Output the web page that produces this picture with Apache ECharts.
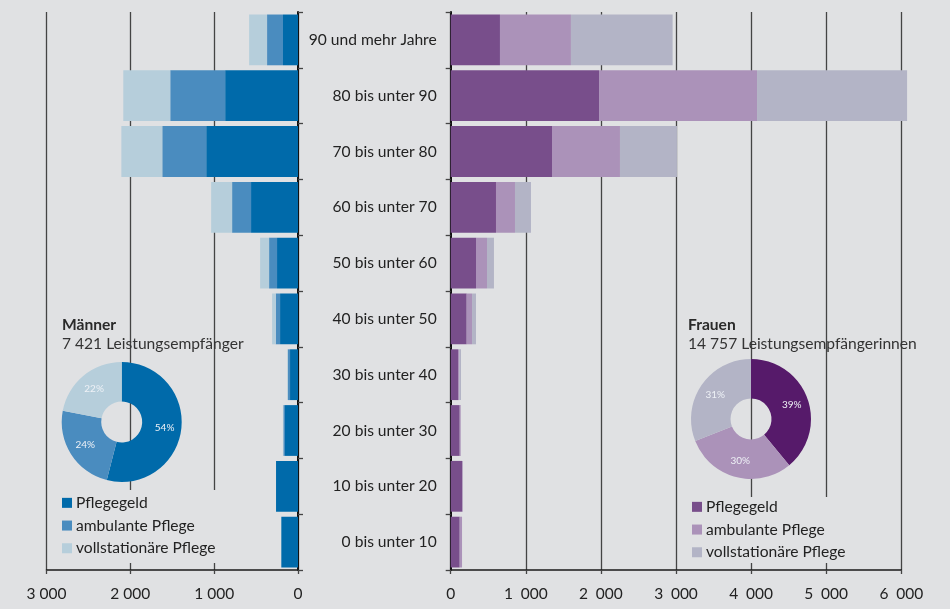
<!DOCTYPE html>
<html>
<head>
<meta charset="utf-8">
<script src="https://cdn.jsdelivr.net/npm/echarts@6/dist/echarts.min.js"></script>
<style>
  html, body { margin: 0; padding: 0; background: #e0e1e3; }
  #chart { width: 950px; height: 609px; }
</style>
</head>
<body>
<div id="chart"></div>
<script>
// Altersgruppen, von oben nach unten
const categories = ['90 und mehr Jahre', '80 bis unter 90', '70 bis unter 80', '60 bis unter 70',
  '50 bis unter 60', '40 bis unter 50', '30 bis unter 40', '20 bis unter 30', '10 bis unter 20', '0 bis unter 10'];

// Männer: Leistungsempfänger nach Leistungsart
const menPflegegeld   = [179, 869, 1095, 560, 250, 214, 95, 155, 262, 199];
const menAmbulant     = [190, 655, 524, 226, 95, 51, 24, 20, 0, 0];
const menStationaer   = [214, 560, 488, 250, 107, 44, 10, 5, 0, 0];

// Frauen: Leistungsempfängerinnen nach Leistungsart
const womenPflegegeld = [656, 1975, 1349, 603, 337, 213, 97, 120, 155, 120];
const womenAmbulant   = [945, 2104, 905, 253, 146, 71, 18, 13, 5, 31];
const womenStationaer = [1354, 1998, 759, 213, 93, 53, 22, 0, 0, 0];

// Anteile in Prozent (Ringdiagramme)
const typeNames = ['Pflegegeld', 'ambulante Pflege', 'vollstationäre Pflege'];
const menShares = [54, 24, 22];
const womenShares = [39, 30, 31];

// Achsenbeschriftungen
const menTickLabels = ['0', '1 000', '2 000', '3 000'];
const womenTickLabels = ['0', '1\u2002000', '2\u2002000', '3\u2002000', '4\u2002000', '5\u2002000', '6\u2002000'];

const menTitle = 'Männer';
const menSub = '7 421 Leistungsempfänger';
const womenTitle = 'Frauen';
const womenSub = '14 757 Leistungsempfängerinnen';

const menColors = ['#006aaa', '#4a8cbf', '#b6cedb'];
const womenBarColors = ['#784e8b', '#ab92b9', '#b3b4c6'];
const womenPieColors = ['#561a6a', '#ab92b9', '#b3b4c6'];

const FONT = 'Lato';
const BG = '#e0e1e3';

const chart = echarts.init(document.getElementById('chart'), null, { renderer: 'canvas' });

const splitLineStyle = { show: true, lineStyle: { color: '#444', width: 1.3 } };
const axisLineStyle = { show: true, lineStyle: { color: '#1a1a1a', width: 1.5 } };
const tickStyle = { show: true, length: 5, lineStyle: { color: '#444', width: 1.3 } };

function barSeries(prefix, names, values, colors, axisIdx, stack) {
  return values.map((vals, i) => ({
    name: prefix + ': ' + names[i],
    type: 'bar',
    stack: stack,
    xAxisIndex: axisIdx,
    yAxisIndex: axisIdx,
    barWidth: '91%',
    clip: false,
    silent: true,
    itemStyle: { color: colors[i] },
    data: vals
  }));
}

function pieSeries(center, shares, colors) {
  return {
    type: 'pie',
    silent: true,
    center: center,
    radius: [20.5, 60],
    startAngle: 90,
    clockwise: true,
    z: 3,
    label: {
      show: true, position: 'inside', formatter: '{c}%',
      fontFamily: FONT, fontSize: 10, color: '#eef1f6'
    },
    labelLine: { show: false },
    data: shares.map((v, i) => ({ name: typeNames[i], value: v, itemStyle: { color: colors[i] } }))
  };
}

const legendBase = {
  orient: 'vertical',
  icon: 'rect',
  padding: 0,
  itemWidth: 10,
  itemHeight: 10,
  itemGap: 5,
  selectedMode: false,
  formatter: n => n.split(': ')[1],
  textStyle: { fontFamily: FONT, fontSize: 15.6, color: '#222', lineHeight: 17.7, padding: [0, 0, 0, -1] }
};

const titleBase = {
  padding: 0,
  itemGap: 1,
  textStyle: { fontFamily: FONT, fontSize: 15.6, fontWeight: 'bold', color: '#2a2a2a', lineHeight: 18 },
  subtextStyle: { fontFamily: FONT, fontSize: 15.6, color: '#333', lineHeight: 18 }
};

const option = {
  backgroundColor: BG,
  animation: false,
  textStyle: { fontFamily: FONT },
  title: [
    Object.assign({}, titleBase, { left: 62, top: 316, text: menTitle, subtext: menSub }),
    Object.assign({}, titleBase, { left: 688, top: 316, text: womenTitle, subtext: womenSub })
  ],
  legend: [
    Object.assign({}, legendBase, { left: 62, top: 494, data: typeNames.map(n => 'Männer: ' + n) }),
    Object.assign({}, legendBase, { left: 692, top: 498, data: typeNames.map(n => 'Frauen: ' + n) })
  ],
  grid: [
    { left: 46.5, top: 12, width: 251.5, height: 558 },
    { left: 450.7, top: 12, width: 450.6, height: 558 }
  ],
  xAxis: [
    {
      gridIndex: 0, type: 'value', inverse: true, min: 0, max: 3000, interval: 1000,
      axisLine: axisLineStyle, axisTick: Object.assign({}, tickStyle, { length: 4 }),
      splitLine: splitLineStyle,
      axisLabel: { margin: 16, fontFamily: FONT, fontSize: 15.5, color: '#222', formatter: v => menTickLabels[v / 1000] }
    },
    {
      gridIndex: 1, type: 'value', min: 0, max: 6000, interval: 1000,
      axisLine: axisLineStyle, axisTick: Object.assign({}, tickStyle, { length: 4 }),
      splitLine: splitLineStyle,
      axisLabel: { margin: 16, fontFamily: FONT, fontSize: 15.5, color: '#222', formatter: v => womenTickLabels[v / 1000] }
    }
  ],
  yAxis: [
    {
      gridIndex: 0, type: 'category', data: categories, inverse: true, position: 'right',
      axisLine: Object.assign({}, axisLineStyle, { lineStyle: { color: '#111', width: 2 } }),
      axisTick: tickStyle, axisLabel: { show: false }, splitLine: { show: false }
    },
    {
      gridIndex: 1, type: 'category', data: categories, inverse: true, position: 'left',
      axisLine: Object.assign({}, axisLineStyle, { lineStyle: { color: '#111', width: 2 } }),
      axisTick: tickStyle, splitLine: { show: false },
      axisLabel: { margin: 14, align: 'right', fontFamily: FONT, fontSize: 15.6, color: '#222' }
    }
  ],
  // Flächen hinter den Legenden blenden die Gitterlinien aus
  graphic: [
    { type: 'rect', z: 1, silent: true, shape: { x: 56, y: 490, width: 184, height: 73 }, style: { fill: BG } },
    { type: 'rect', z: 1, silent: true, shape: { x: 686, y: 497, width: 196, height: 66 }, style: { fill: BG } }
  ],
  series: [
    ...barSeries('Männer', typeNames, [menPflegegeld, menAmbulant, menStationaer], menColors, 0, 'men'),
    ...barSeries('Frauen', typeNames, [womenPflegegeld, womenAmbulant, womenStationaer], womenBarColors, 1, 'women'),
    pieSeries([121.7, 422], menShares, menColors),
    pieSeries([751, 419], womenShares, womenPieColors)
  ]
};

chart.setOption(option);
</script>
</body>
</html>
